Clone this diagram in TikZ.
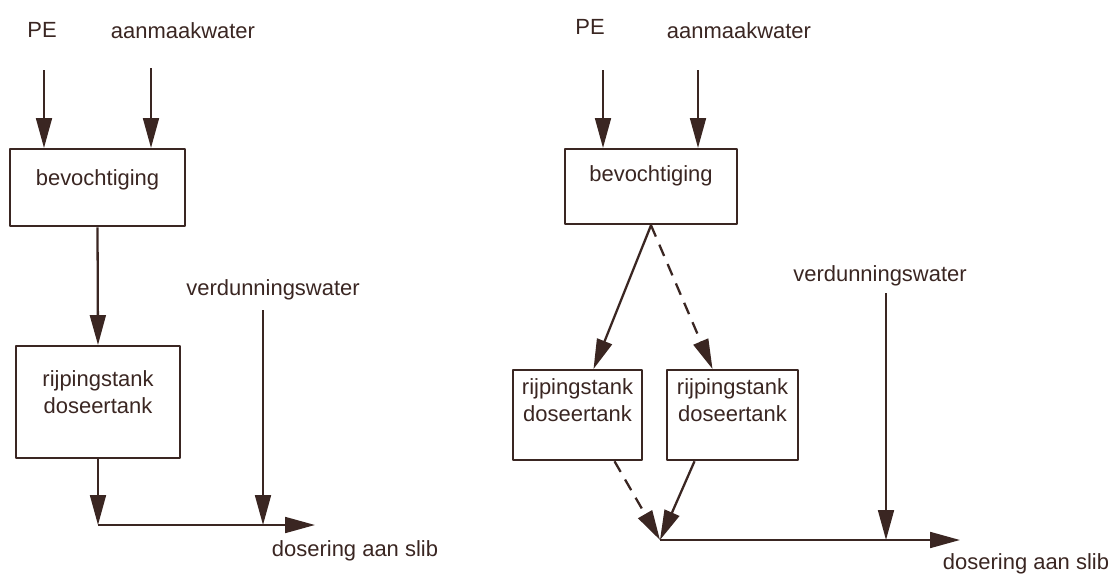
\documentclass[tikz,border=0pt]{standalone}
\usepackage{fontspec}
\setmainfont{Liberation Sans}
\usetikzlibrary{arrows.meta,calc}
\definecolor{ink}{RGB}{58,38,34}
\begin{document}
\begin{tikzpicture}[x=0.02cm, y=-0.02cm, line width=1.3pt, line join=round,
	color=ink, font=\fontsize{12.5}{15.3}\selectfont,
	>={Triangle[length=17pt,width=9pt]},
	box/.style={draw, inner xsep=0pt, inner ysep=0pt, align=center, anchor=north},
	streep/.style={dash pattern=on 7pt off 5pt}]
	\useasboundingbox (0,0) rectangle (1111,578);
	% labels
	\foreach \n/\x/\y/\t in {pe1L/42/30/PE, aw1L/183/31/aanmaakwater,
		vw1L/273/290/verdunningswater, ds1L/355/551/dosering aan slib,
		pe2L/590/27/PE, aw2L/739/31/aanmaakwater,
		vw2L/880/276/verdunningswater, ds2L/1026/564/dosering aan slib}
	\node (\n) at (\x,\y) {\t};
	\path (44,70) coordinate (pe1) (151,68) coordinate (aw1)
	(263,310) coordinate (vw1) (98,525) coordinate (j1) (315,525) coordinate (uit1)
	(603,70) coordinate (pe2) (698,70) coordinate (aw2)
	(886,293) coordinate (vw2) (660,540) coordinate (j2) (960,540) coordinate (uit2);
	% boxes
	\node[box, minimum width=3.5cm, text height=0.72cm, text depth=0.82cm]
	(bev1) at (97.5,148) {bevochtiging};
	\node[box, minimum width=3.28cm, text height=1.34cm, text depth=0.9cm]
	(rijp1) at (98,345) {rijpingstank\\doseertank};
	\node[box, minimum width=3.44cm, text height=0.64cm, text depth=0.86cm]
	(bev2) at (651,148) {bevochtiging};
	\node[box, minimum width=2.58cm, text height=1.02cm, text depth=0.78cm]
	(rijpA) at (577.5,369) {rijpingstank\\doseertank};
	\node[box, minimum width=2.62cm, text height=1.02cm, text depth=0.78cm]
	(rijpB) at (732.5,369) {rijpingstank\\doseertank};
	% left
	\draw[->] (pe1) -- (pe1 |- bev1.north);
	\draw[->] (aw1) -- (aw1 |- bev1.north);
	\draw[->] (bev1.south) -- (rijp1.north);
	\draw[->] (rijp1.south) -- (j1);
	\draw[->] (j1) -- (uit1);
	\draw[->] (vw1) -- (vw1 |- j1);
	% right
	\draw[->] (pe2) -- (pe2 |- bev2.north);
	\draw[->] (aw2) -- (aw2 |- bev2.north);
	\draw[->] (bev2.south) -- ($(rijpA.north)+(16,0)$);
	\draw[->,streep] (bev2.south) -- ($(rijpB.north)+(-20,0)$);
	\draw[->,streep] ($(rijpA.south)+(37,0)$) -- (j2);
	\draw[->] ($(rijpB.south)+(-38,0)$) -- (j2);
	\draw[->] (j2) -- (uit2);
	\draw[->] (vw2) -- (vw2 |- j2);
\end{tikzpicture}
\end{document}
